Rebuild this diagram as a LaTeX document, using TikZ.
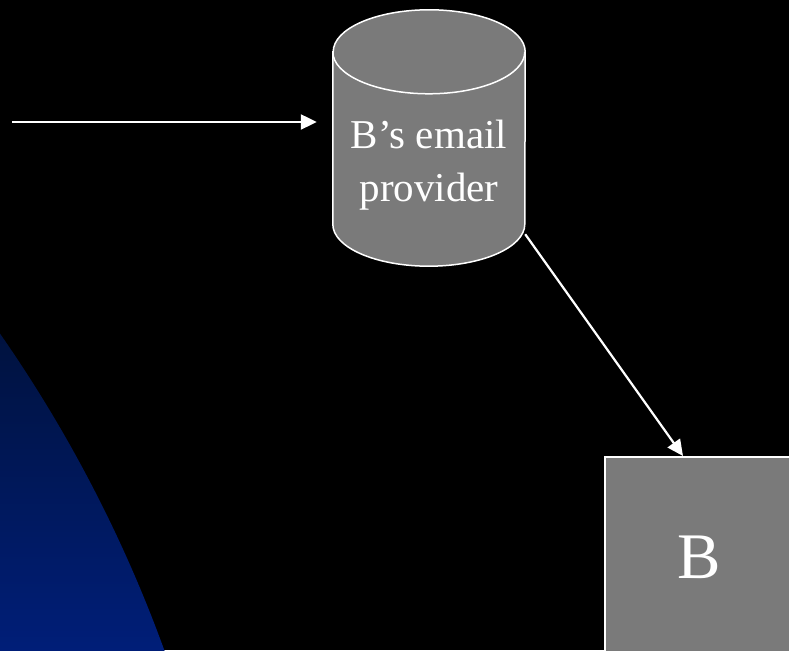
\documentclass[tikz,border=0pt]{standalone}
\usepackage{fontspec}
\setmainfont{Liberation Serif}
\usetikzlibrary{arrows.meta}
\definecolor{boxgray}{RGB}{122,122,122}
\definecolor{deepblue}{RGB}{0,18,62}
\definecolor{lightblue}{RGB}{0,30,120}
\begin{document}
\begin{tikzpicture}[x=1pt,y=1pt,
    store/.style={minimum width=192pt, minimum height=256pt, inner sep=0pt},
    rim/.style={draw=white, line width=1.5pt},
    party/.style={draw=white, line width=2pt, fill=boxgray, minimum width=188pt, minimum height=200pt, inner sep=0pt, text=white, font=\fontsize{65}{70}\selectfont},
    link/.style={draw=white, line width=2.2pt, -{Triangle[length=16pt,width=15pt]}}]
    \useasboundingbox (0,0) rectangle (789,650);
    \fill[black] (0,0) rectangle (789,650);
    \clip (0,0) rectangle (789,650);
    % blue arc in the lower left corner
    \begin{scope}
        \clip (-1134,-472) circle (1381);
        \shade[top color=deepblue, bottom color=lightblue] (0,0) rectangle (200,320);
    \end{scope}
    \node[store] (prov) at (429,512) {};
    % cylinder drawn on the node's corners
    \filldraw[rim, fill=boxgray] ([yshift=-42pt]prov.north west) -- ([yshift=42pt]prov.south west)
        arc[start angle=180, end angle=360, x radius=96, y radius=42]
        -- ([yshift=-42pt]prov.north east)
        arc[start angle=0, end angle=180, x radius=96, y radius=42] -- cycle;
    \draw[rim] ([yshift=-42pt]prov.north west) arc[start angle=180, end angle=360, x radius=96, y radius=42];
    \node[text=white, align=center, font=\fontsize{41}{53}\selectfont] (provtext) at (429,485) {B’s email\\provider};
    \node[party] (b) at (699,93) {B};
    \coordinate (src) at (12,528);

    \draw[link, shorten >=16pt] (src) -- (src -| prov.west);
    \draw[link] (prov.-45) -- ([xshift=-16pt]b.north);
\end{tikzpicture}
\end{document}
